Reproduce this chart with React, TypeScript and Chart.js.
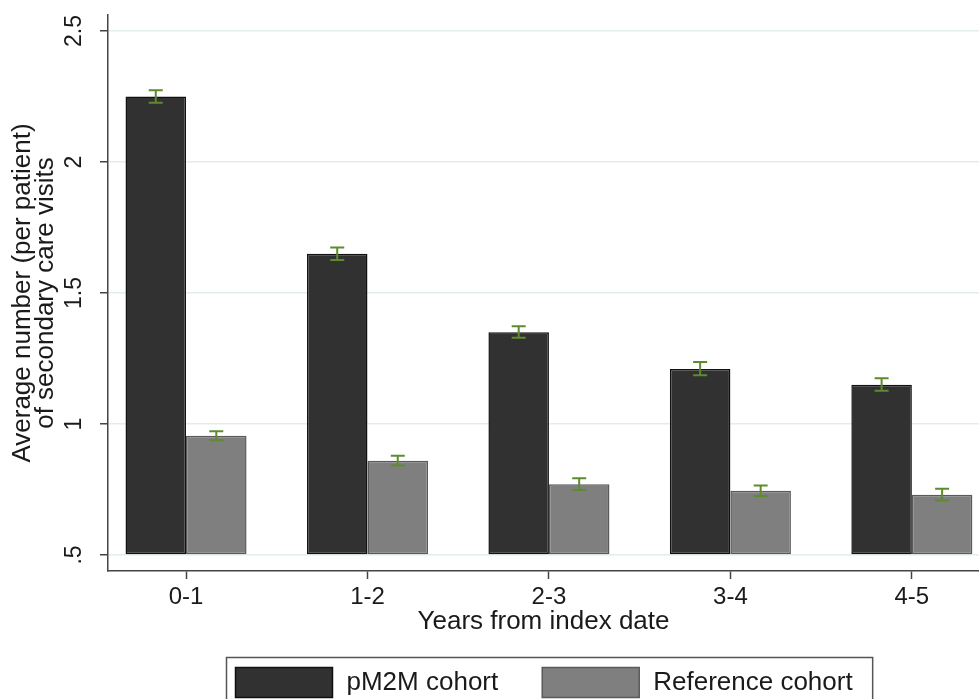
import React, { useEffect, useRef } from "react";
import { Chart, registerables } from "chart.js";

Chart.register(...registerables);

const categories = ["0-1", "1-2", "2-3", "3-4", "4-5"];
const seriesNames = ["pM2M cohort", "Reference cohort"];
const pm2mMean = [2.25, 1.65, 1.35, 1.21, 1.15];
const pm2mLower = [2.226, 1.626, 1.329, 1.186, 1.127];
const pm2mUpper = [2.274, 1.674, 1.373, 1.237, 1.175];
const refMean = [0.955, 0.86, 0.77, 0.745, 0.73];
const refLower = [0.938, 0.842, 0.748, 0.725, 0.708];
const refUpper = [0.972, 0.879, 0.793, 0.765, 0.753];
const yTickValues = [0.5, 1, 1.5, 2, 2.5];
const yTickLabels = [".5", "1", "1.5", "2", "2.5"];
const yTitleLines = ["Average number (per patient)", "of secondary care visits"];
const xTitle = "Years from index date";

const FONT = '"Liberation Sans", Arial, Helvetica, sans-serif';
const TEXT = "#1a1a1a";
const AXIS = "#444444";

export default function App() {
  const ref = useRef<HTMLCanvasElement>(null);

  useEffect(() => {
    if (!ref.current) return;

    const errorBars = {
      id: "errorBars",
      afterDatasetsDraw(chart: any) {
        const y = chart.scales.y;
        const ctx = chart.ctx;
        const lows = [pm2mLower, refLower];
        const highs = [pm2mUpper, refUpper];
        ctx.save();
        ctx.strokeStyle = "#5e8b2e";
        ctx.lineWidth = 2;
        chart.data.datasets.forEach((_: any, d: number) => {
          const meta = chart.getDatasetMeta(d);
          meta.data.forEach((el: any, i: number) => {
            const x = el.x;
            const yl = y.getPixelForValue(lows[d][i]);
            const yh = y.getPixelForValue(highs[d][i]);
            ctx.beginPath();
            ctx.moveTo(x, yl);
            ctx.lineTo(x, yh);
            ctx.moveTo(x - 7, yl);
            ctx.lineTo(x + 7, yl);
            ctx.moveTo(x - 7, yh);
            ctx.lineTo(x + 7, yh);
            ctx.stroke();
          });
        });
        ctx.restore();
      },
    };

    const legendBox = {
      id: "legendBox",
      afterDraw(chart: any) {
        const { ctx, chartArea } = chart;
        ctx.save();
        ctx.font = `26px ${FONT}`;
        const swW = 97, swH = 30, gapST = 14, gapItems = 44, padL = 9, padR = 20;
        const ds = chart.data.datasets;
        const widths = ds.map((d: any) => ctx.measureText(d.label).width);
        const total =
          padL +
          widths.reduce((a: number, w: number) => a + swW + gapST + w, 0) +
          gapItems * (ds.length - 1) +
          padR;
        const cx = (chartArea.left + chartArea.right) / 2 + 6;
        const left = Math.round(cx - total / 2) + 0.5;
        const top = Math.round(chartArea.bottom + 86) + 0.5;
        ctx.strokeStyle = "#555";
        ctx.lineWidth = 1.5;
        ctx.strokeRect(left, top, total, 80);
        let x = left + padL;
        const sy = top + 10;
        ds.forEach((d: any, i: number) => {
          ctx.fillStyle = d.backgroundColor;
          ctx.fillRect(x, sy, swW, swH);
          ctx.strokeStyle = d.borderColor;
          ctx.lineWidth = 1.5;
          ctx.strokeRect(x, sy, swW, swH);
          x += swW + gapST;
          ctx.fillStyle = TEXT;
          ctx.textBaseline = "middle";
          ctx.textAlign = "left";
          ctx.fillText(d.label, x, sy + swH / 2);
          x += widths[i] + gapItems;
        });
        ctx.restore();
      },
    };

    const chart = new Chart(ref.current, {
      type: "bar",
      data: {
        datasets: [
          {
            label: seriesNames[0],
            data: categories.map((_, i) => ({ x: i, y: pm2mMean[i] })),
            backgroundColor: "#313131",
            borderColor: "#111111",
            borderWidth: 1.5,
            borderSkipped: false,
            base: 0.5,
          },
          {
            label: seriesNames[1],
            data: categories.map((_, i) => ({ x: i, y: refMean[i] })),
            backgroundColor: "#7f7f7f",
            borderColor: "#5a5a5a",
            borderWidth: 1.5,
            borderSkipped: false,
            base: 0.5,
          },
        ],
      } as any,
      options: {
        responsive: false,
        animation: false,
        devicePixelRatio: 1,
        layout: { padding: { top: 15, right: 0, left: 0, bottom: 69 } },
        plugins: {
          legend: { display: false },
          tooltip: { enabled: false },
        },
        datasets: {
          bar: { categoryPercentage: 0.667, barPercentage: 1 },
        },
        scales: {
          x: {
            type: "linear",
            min: -0.43,
            max: 4.37,
            offset: false,
            afterBuildTicks: (s: any) => {
              s.ticks = categories.map((_, i) => ({ value: i }));
            },
            afterFit: (s: any) => {
              s.height = 80;
              s.paddingLeft = 0;
              s.paddingRight = 0;
            },
            ticks: {
              callback: (v: any) => categories[v as number],
              font: { size: 24, family: FONT },
              color: TEXT,
              padding: 4,
              autoSkip: false,
              maxRotation: 0,
              minRotation: 0,
            },
            grid: {
              offset: false,
              drawOnChartArea: false,
              drawTicks: true,
              tickLength: 8,
              tickColor: AXIS,
              tickWidth: 1.5,
            },
            border: { display: true, color: AXIS, width: 1.5 },
            title: {
              display: true,
              text: xTitle,
              font: { size: 26, family: FONT },
              color: TEXT,
              padding: { top: 0, bottom: 14 },
            },
          },
          y: {
            type: "linear",
            min: 0.439,
            max: 2.561,
            afterBuildTicks: (s: any) => {
              s.ticks = yTickValues.map((v) => ({ value: v }));
            },
            afterFit: (s: any) => {
              s.width = 108;
              s.paddingTop = 0;
              s.paddingBottom = 0;
            },
            ticks: {
              callback: (v: any) => yTickLabels[yTickValues.indexOf(v as number)],
              font: { size: 23, family: FONT },
              color: TEXT,
              padding: 9,
              minRotation: 90,
              maxRotation: 90,
              crossAlign: "center",
            },
            grid: {
              color: "#e2eded",
              lineWidth: 1.5,
              drawTicks: true,
              tickLength: 8,
              tickColor: AXIS,
              tickWidth: 1.5,
            },
            border: { display: true, color: AXIS, width: 1.5 },
            title: {
              display: true,
              text: yTitleLines,
              font: { size: 26, family: FONT, lineHeight: 0.9 },
              color: TEXT,
              padding: { top: 11, bottom: 0 },
            },
          },
        },
      } as any,
      plugins: [errorBars, legendBox],
    });

    return () => chart.destroy();
  }, []);

  return (
    <div
      style={{
        position: "fixed",
        left: 0,
        top: 0,
        width: 979,
        height: 699,
        overflow: "hidden",
        background: "#ffffff",
      }}
    >
      <canvas
        ref={ref}
        width={979}
        height={720}
        style={{ display: "block", width: 979, height: 720 }}
      />
    </div>
  );
}
